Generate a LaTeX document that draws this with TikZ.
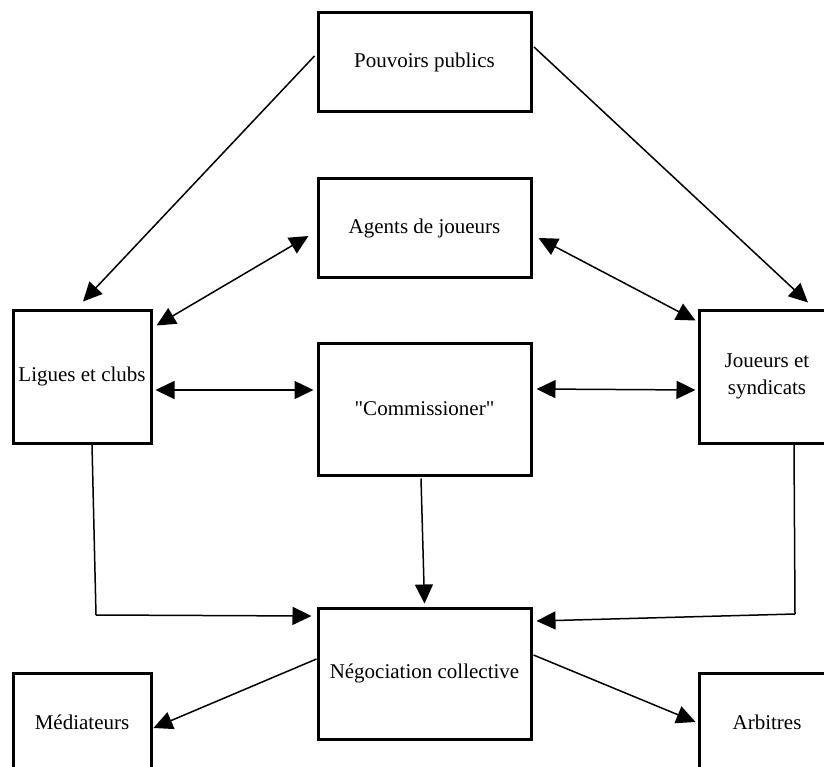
\documentclass[tikz,border=0pt]{standalone}
\usepackage{fontspec}
\setmainfont{Liberation Serif}[Ligatures=TeXOff]
\usetikzlibrary{arrows.meta,calc}

\tikzset{
  box/.style={draw, line width=3pt, fill=white, align=center,
    inner sep=0pt, font=\fontsize{21}{27}\selectfont},
  tip/.tip={Triangle[length=19pt,width=18pt]},
  link/.style={line width=1.5pt, -tip},
  both/.style={line width=1.5pt, tip-tip},
  plain/.style={line width=1.5pt}
}

\begin{document}
\begin{tikzpicture}[x=1pt, y=-1pt]
\useasboundingbox (0,0) rectangle (824,767);
\clip (0,0) rectangle (824,767);

% boxes
\node[box, minimum width=213pt, minimum height=99pt]  (pp) at (424.5,62.5) {Pouvoirs publics};
\node[box, minimum width=213pt, minimum height=98pt]  (ag) at (424.5,228)  {Agents de joueurs};
\node[box, minimum width=213pt, minimum height=132pt] (co) at (424.5,409)  {"Commissioner"};
\node[box, minimum width=213pt, minimum height=131pt] (ne) at (424.5,673.5) {Négociation collective};
\node[box, minimum width=138pt, minimum height=133pt] (lc) at (82,376.5)   {Ligues et clubs};
\node[box, minimum width=136pt, minimum height=133pt] (js) at (767,376.5)  {Joueurs et\\syndicats};
\node[box, minimum width=138pt, minimum height=98pt]  (me) at (82,722)     {Médiateurs};
\node[box, minimum width=136pt, minimum height=98pt]  (ar) at (767,722)    {Arbitres};

% public authorities
\draw[link] ($(pp.west)+(-2,-6.5)$) -- ($(lc.north)+(1,-7)$);
\draw[link] ($(pp.east)+(1.5,-15.5)$) -- ($(js.north)+(41,-6)$);

% player agents
\draw[both] ($(lc.north east)+(4,17)$) -- ($(ag.west)+(-8,8)$);
\draw[both] ($(ag.east)+(6,10)$) -- ($(js.north west)+(-2,12)$);

% commissioner
\draw[both] ($(lc.east)+(3,13.5)$) -- ($(co.west)+(-3,-19)$);
\draw[both] ($(co.east)+(4,-20)$) -- ($(js.west)+(-2,13.5)$);
\draw[link] ($(co.south)+(-3.5,2)$) -- ($(ne.north)+(0,-3)$);

% into collective bargaining
\coordinate (lbend) at (96,615);
\coordinate (rbend) at (795,614);
\draw[plain] ($(lc.south)+(10,0)$) -- (lbend);
\draw[link] (lbend) -- ($(ne.west)+(-5,-57.5)$);
\draw[plain] ($(js.south)+(27,0)$) -- (rbend);
\draw[link] (rbend) -- ($(ne.east)+(4,-52.5)$);

% mediators and arbitrators
\draw[link] ($(ne.west)+(0,-14.5)$) -- ($(me.east)+(1,6)$);
\draw[link] ($(ne.east)+(1,-18.5)$) -- ($(ar.west)+(-2,0)$);
\end{tikzpicture}
\end{document}
